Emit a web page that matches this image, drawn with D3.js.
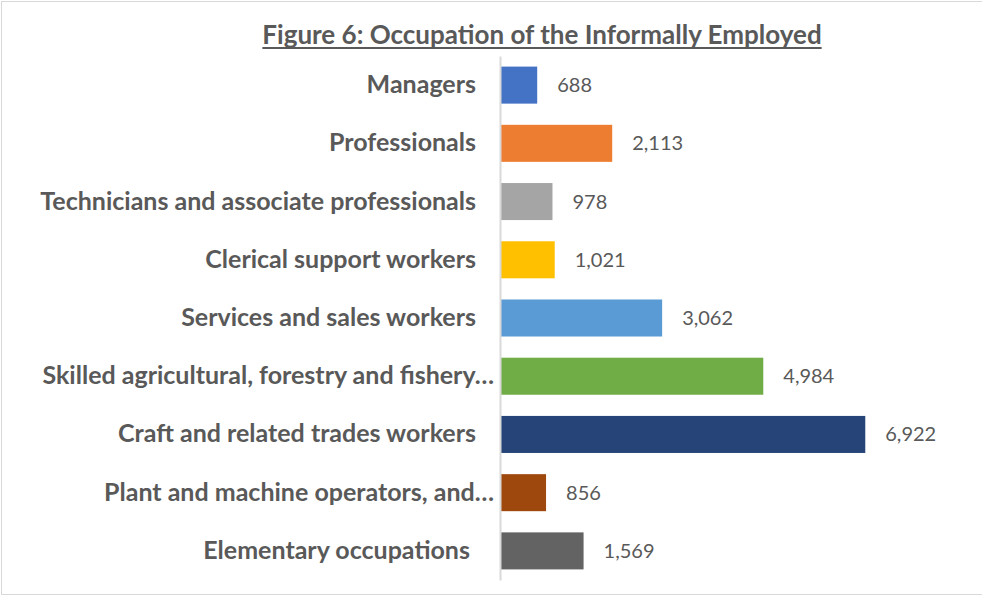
<!DOCTYPE html>
<html>
<head>
<meta charset="utf-8">
<script src="https://cdn.jsdelivr.net/npm/d3@7"></script>
<style>
  html, body { margin: 0; padding: 0; background: #fff; }
  svg { display: block; }
  text { font-family: Lato, "Open Sans", sans-serif; fill: #595959; }
</style>
</head>
<body>
<svg id="chart"></svg>
<script>
// chart data
const categories = [
  'Managers',
  'Professionals',
  'Technicians and associate professionals',
  'Clerical support workers',
  'Services and sales workers',
  'Skilled agricultural, forestry and fishery\u2026',
  'Craft and related trades workers',
  'Plant and machine operators, and\u2026',
  'Elementary occupations '
];
const values = [688, 2113, 978, 1021, 3062, 4984, 6922, 856, 1569];
const barColors = ['#4472C4', '#ED7D31', '#A5A5A5', '#FFC000', '#5B9BD5', '#70AD47', '#264478', '#9E480E', '#636363'];
const title = 'Figure 6: Occupation of the Informally Employed';

const width = 982;
const height = 596;
const margin = { top: 56, right: 60, bottom: 16, left: 501 };

const svg = d3.select('#chart').attr('width', width).attr('height', height);

// outer chart border (right side falls off the picture)
svg.append('rect')
  .attr('x', 1.5).attr('y', 1.5)
  .attr('width', width + 10).attr('height', height - 3)
  .attr('fill', 'none')
  .attr('stroke', '#D9D9D9')
  .attr('stroke-width', 1);

const x = d3.scaleLinear().domain([0, 8000]).range([margin.left, 922]);
const y = d3.scaleBand()
  .domain(categories)
  .range([margin.top, height - margin.bottom])
  .paddingInner(0.364)
  .paddingOuter(0.182);

const data = categories.map((c, i) => ({ cat: c, value: values[i], color: barColors[i] }));

// bars
svg.append('g')
  .selectAll('rect')
  .data(data)
  .enter()
  .append('rect')
  .attr('x', x(0))
  .attr('y', (d) => y(d.cat))
  .attr('width', (d) => x(d.value) - x(0))
  .attr('height', y.bandwidth())
  .attr('fill', (d) => d.color);

// category axis: just the vertical line, no ticks
const yAxis = svg.append('g')
  .attr('transform', `translate(${x(0) - 1},0)`)
  .call(d3.axisLeft(y).tickSize(0).tickPadding(24));
yAxis.select('.domain').attr('stroke', '#D9D9D9').attr('stroke-width', 2);
yAxis.selectAll('.tick text')
  .attr('dx', (d) => (d.endsWith('\u2026') ? 18 : 0))
  .style('white-space', 'pre')
  .style('font-family', 'Lato, sans-serif')
  .style('font-size', '25px')
  .style('font-weight', 'bold')
  .style('fill', '#595959');

// value labels
const fmt = d3.format(',');
svg.append('g')
  .selectAll('text')
  .data(data)
  .enter()
  .append('text')
  .attr('x', (d) => x(d.value) + 20)
  .attr('y', (d) => y(d.cat) + y.bandwidth() / 2)
  .attr('dy', '0.35em')
  .style('font-size', '20px')
  .text((d) => fmt(d.value));

// title with underline
const titleText = svg.append('text')
  .attr('x', 542)
  .attr('y', 44)
  .attr('text-anchor', 'middle')
  .style('font-size', '26px')
  .style('font-weight', 'bold')
  .text(title);
const tb = titleText.node().getBBox();
svg.append('line')
  .attr('x1', tb.x).attr('x2', tb.x + tb.width)
  .attr('y1', 48).attr('y2', 48)
  .attr('stroke', '#595959')
  .attr('stroke-width', 2);
</script>
</body>
</html>
